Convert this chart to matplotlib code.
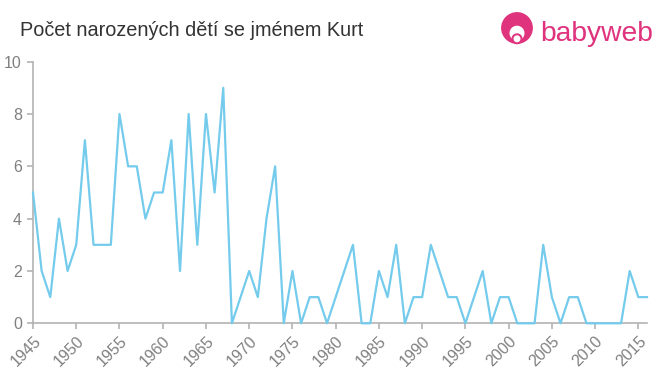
import matplotlib
matplotlib.use("Agg")
import matplotlib.pyplot as plt
from matplotlib.patches import Circle

plt.rcParams["font.family"] = ["Liberation Sans", "DejaVu Sans"]

# ── Data ──────────────────────────────────────────────────────────────────────
years = list(range(1945, 2017))
counts = [
    5, 2, 1, 4, 2, 3, 7, 3, 3, 3,   # 1945-1954
    8, 6, 6, 4, 5, 5, 7, 2, 8, 3,   # 1955-1964
    8, 5, 9, 0, 1, 2, 1, 4, 6, 0,   # 1965-1974
    2, 0, 1, 1, 0, 1, 2, 3, 0, 0,   # 1975-1984
    2, 1, 3, 0, 1, 1, 3, 2, 1, 1,   # 1985-1994
    0, 1, 2, 0, 1, 1, 0, 0, 0, 3,   # 1995-2004
    1, 0, 1, 1, 0, 0, 0, 0, 0, 2,   # 2005-2014
    1, 1,                           # 2015-2016
]
x_ticks = list(range(1945, 2016, 5))
y_ticks = [0, 2, 4, 6, 8, 10]

title = "Počet narozených dětí se jménem Kurt"

LINE_COLOR = "#74cbec"
AXIS_COLOR = "#b3b3b3"
LABEL_COLOR = "#808080"
PINK = "#e0337e"

# ── Figure ────────────────────────────────────────────────────────────────────
fig = plt.figure(figsize=(6.6, 3.75), dpi=100)
ax = fig.add_axes([33 / 660, 1 - 323.3 / 375, (647 - 33) / 660, (323.3 - 61.7) / 375])

ax.plot(years, counts, color=LINE_COLOR, linewidth=1.6, clip_on=False, zorder=3)

ax.set_xlim(1945, 2016)
ax.set_ylim(0, 10)
ax.set_xticks(x_ticks)
ax.set_xticklabels([str(t) for t in x_ticks], rotation=45, ha="right",
                   rotation_mode="anchor", fontsize=11.5, color=LABEL_COLOR)
ax.set_yticks(y_ticks)
ax.set_yticklabels([str(t) for t in y_ticks], fontsize=11.5, color=LABEL_COLOR)

for side in ("top", "right"):
    ax.spines[side].set_visible(False)
for side in ("left", "bottom"):
    ax.spines[side].set_color(AXIS_COLOR)
    ax.spines[side].set_linewidth(1.2)
ax.tick_params(axis="both", colors=AXIS_COLOR, length=4, width=1.2,
               labelcolor=LABEL_COLOR)
ax.tick_params(axis="x", pad=3)
ax.tick_params(axis="y", pad=4)

fig.text(20 / 660, 1 - 31 / 375, title, fontsize=14.3, color="#333333",
         va="center", ha="left")

# ── Logo ──────────────────────────────────────────────────────────────────────
logo = fig.add_axes([497 / 660, 1 - 50 / 375, 40 / 660, 40 / 375])
logo.set_xlim(0, 1)
logo.set_ylim(0, 1)
logo.set_aspect("equal")
logo.axis("off")
logo.add_patch(Circle((0.5, 0.55), 0.38, color=PINK))
logo.add_patch(Circle((0.5, 0.42), 0.17, color="white"))
logo.add_patch(Circle((0.5, 0.28), 0.12, color=PINK))
logo.add_patch(Circle((0.5, 0.28), 0.07, color="white"))
fig.text(540 / 660, 1 - 34 / 375, "babyweb", fontsize=20.3, color=PINK,
         va="center", ha="left")

fig.savefig("out.png", dpi=100)
